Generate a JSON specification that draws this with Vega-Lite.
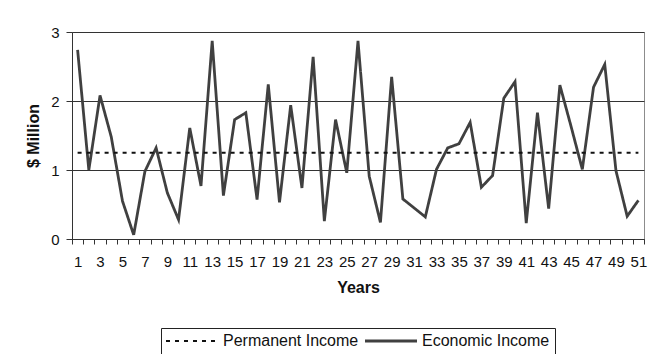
{
  "$schema": "https://vega.github.io/schema/vega-lite/v6.json",
  "width": 572,
  "height": 207,
  "autosize": "none",
  "padding": {"left": 72, "top": 32, "right": 6, "bottom": 115},
  "background": "white",
  "config": {
    "font": "Liberation Sans",
    "view": {"stroke": "#8c8c8c", "strokeWidth": 1},
    "axis": {
      "domainColor": "#333333",
      "tickColor": "#333333",
      "labelColor": "#111111",
      "titleColor": "#111111",
      "labelFont": "Liberation Sans",
      "titleFont": "Liberation Sans",
      "labelFontSize": 15,
      "titleFontSize": 16,
      "titleFontWeight": "bold"
    }
  },
  "data": {
    "values": [
      {"year": 1, "series": "Economic Income", "value": 2.74},
      {"year": 2, "series": "Economic Income", "value": 1.0},
      {"year": 3, "series": "Economic Income", "value": 2.08},
      {"year": 4, "series": "Economic Income", "value": 1.48},
      {"year": 5, "series": "Economic Income", "value": 0.55},
      {"year": 6, "series": "Economic Income", "value": 0.06},
      {"year": 7, "series": "Economic Income", "value": 0.98},
      {"year": 8, "series": "Economic Income", "value": 1.32},
      {"year": 9, "series": "Economic Income", "value": 0.67},
      {"year": 10, "series": "Economic Income", "value": 0.28},
      {"year": 11, "series": "Economic Income", "value": 1.61},
      {"year": 12, "series": "Economic Income", "value": 0.77},
      {"year": 13, "series": "Economic Income", "value": 2.87},
      {"year": 14, "series": "Economic Income", "value": 0.63},
      {"year": 15, "series": "Economic Income", "value": 1.73},
      {"year": 16, "series": "Economic Income", "value": 1.83},
      {"year": 17, "series": "Economic Income", "value": 0.57},
      {"year": 18, "series": "Economic Income", "value": 2.24},
      {"year": 19, "series": "Economic Income", "value": 0.53},
      {"year": 20, "series": "Economic Income", "value": 1.94},
      {"year": 21, "series": "Economic Income", "value": 0.74},
      {"year": 22, "series": "Economic Income", "value": 2.64},
      {"year": 23, "series": "Economic Income", "value": 0.26},
      {"year": 24, "series": "Economic Income", "value": 1.73},
      {"year": 25, "series": "Economic Income", "value": 0.96},
      {"year": 26, "series": "Economic Income", "value": 2.87},
      {"year": 27, "series": "Economic Income", "value": 0.91},
      {"year": 28, "series": "Economic Income", "value": 0.24},
      {"year": 29, "series": "Economic Income", "value": 2.35},
      {"year": 30, "series": "Economic Income", "value": 0.58},
      {"year": 31, "series": "Economic Income", "value": 0.45},
      {"year": 32, "series": "Economic Income", "value": 0.32},
      {"year": 33, "series": "Economic Income", "value": 1.01},
      {"year": 34, "series": "Economic Income", "value": 1.32},
      {"year": 35, "series": "Economic Income", "value": 1.38},
      {"year": 36, "series": "Economic Income", "value": 1.69},
      {"year": 37, "series": "Economic Income", "value": 0.75},
      {"year": 38, "series": "Economic Income", "value": 0.92},
      {"year": 39, "series": "Economic Income", "value": 2.04},
      {"year": 40, "series": "Economic Income", "value": 2.28},
      {"year": 41, "series": "Economic Income", "value": 0.23},
      {"year": 42, "series": "Economic Income", "value": 1.83},
      {"year": 43, "series": "Economic Income", "value": 0.44},
      {"year": 44, "series": "Economic Income", "value": 2.23},
      {"year": 45, "series": "Economic Income", "value": 1.63},
      {"year": 46, "series": "Economic Income", "value": 1.01},
      {"year": 47, "series": "Economic Income", "value": 2.2},
      {"year": 48, "series": "Economic Income", "value": 2.53},
      {"year": 49, "series": "Economic Income", "value": 0.99},
      {"year": 50, "series": "Economic Income", "value": 0.33},
      {"year": 51, "series": "Economic Income", "value": 0.56},
      {"year": 1, "series": "Permanent Income", "value": 1.25},
      {"year": 51, "series": "Permanent Income", "value": 1.25}
    ]
  },
  "mark": {"type": "line", "strokeJoin": "miter", "strokeCap": "butt"},
  "encoding": {
    "x": {
      "field": "year",
      "type": "quantitative",
      "scale": {"domain": [0.5, 51.5], "nice": false, "zero": false},
      "axis": {
        "title": "Years",
        "values": [0.5, 1.5, 2.5, 3.5, 4.5, 5.5, 6.5, 7.5, 8.5, 9.5, 10.5, 11.5, 12.5, 13.5, 14.5, 15.5, 16.5, 17.5, 18.5, 19.5, 20.5, 21.5, 22.5, 23.5, 24.5, 25.5, 26.5, 27.5, 28.5, 29.5, 30.5, 31.5, 32.5, 33.5, 34.5, 35.5, 36.5, 37.5, 38.5, 39.5, 40.5, 41.5, 42.5, 43.5, 44.5, 45.5, 46.5, 47.5, 48.5, 49.5, 50.5, 51.5],
        "labelExpr": "(datum.value + 0.5) % 2 == 1 ? format(datum.value + 0.5, 'd') : ''",
        "labelOffset": 5.6,
        "labelFlush": false,
        "labelOverlap": false,
        "labelPadding": 10,
        "tickSize": 5,
        "grid": false,
        "titlePadding": 10
      }
    },
    "y": {
      "field": "value",
      "type": "quantitative",
      "scale": {"domain": [0, 3], "nice": false},
      "axis": {
        "title": "$ Million",
        "values": [0, 1, 2, 3],
        "tickSize": 6,
        "labelPadding": 7,
        "grid": true,
        "gridColor": "#333333",
        "gridWidth": 1,
        "gridOpacity": 1,
        "titlePadding": 9
      }
    },
    "color": {
      "field": "series",
      "type": "nominal",
      "scale": {"domain": ["Permanent Income", "Economic Income"], "range": ["#111111", "#404040"]},
      "legend": {
        "title": null,
        "orient": "none",
        "direction": "horizontal",
        "legendX": 89,
        "legendY": 296,
        "padding": 5,
        "strokeColor": "#222222",
        "fillColor": "white",
        "symbolType": "M-2,0H11",
        "symbolSize": 64,
        "labelFont": "Liberation Sans",
        "labelFontSize": 16,
        "labelColor": "#111111",
        "labelOffset": 41,
        "columnPadding": 0,
        "labelLimit": 300
      }
    },
    "strokeDash": {
      "field": "series",
      "type": "nominal",
      "scale": {"domain": ["Permanent Income", "Economic Income"], "range": [[4, 5], [1, 0]]}
    },
    "strokeWidth": {
      "field": "series",
      "type": "nominal",
      "scale": {"domain": ["Permanent Income", "Economic Income"], "range": [2, 2.8]}
    }
  }
}
